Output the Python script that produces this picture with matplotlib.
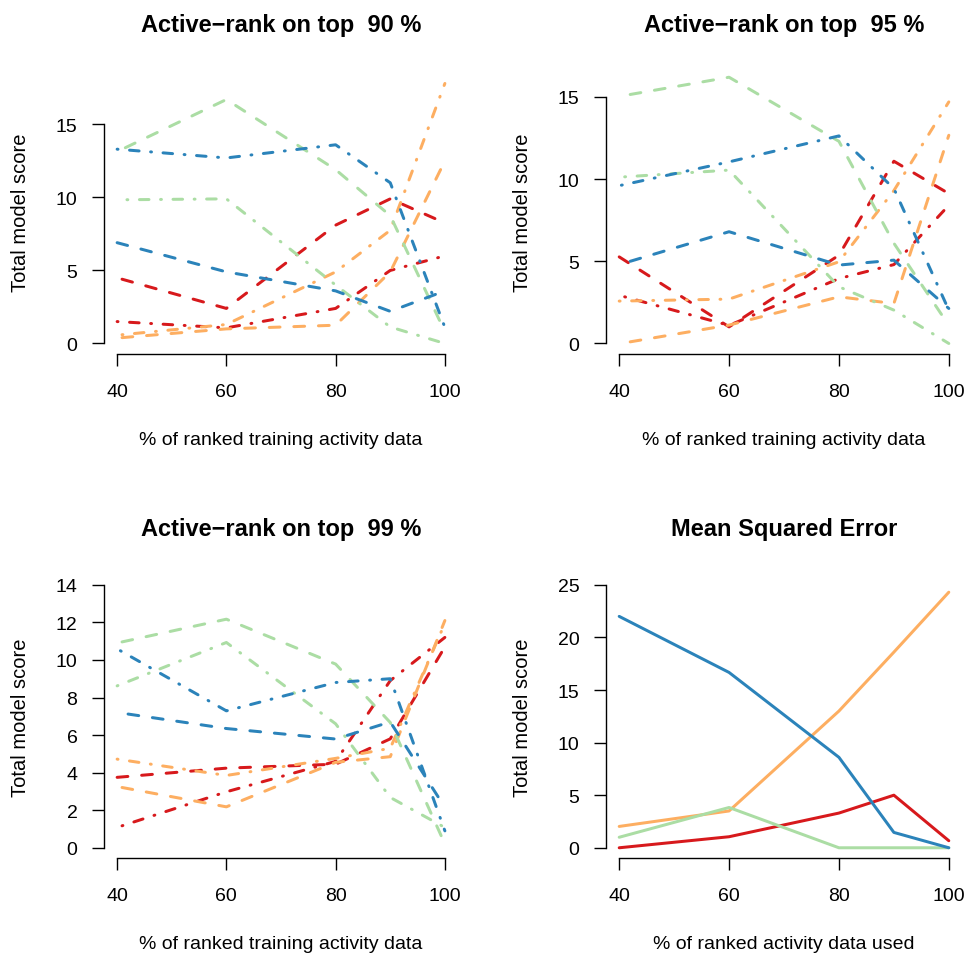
import numpy as np
import matplotlib
matplotlib.use("Agg")
import matplotlib.pyplot as plt

plt.rcParams['font.family'] = ['Liberation Sans', 'DejaVu Sans']

# x positions (% of ranked data)
x = [40, 60, 80, 90, 100]

# colours of the four scores (Spectral palette)
col_red = '#d7191c'
col_orange = '#fdae61'
col_green = '#abdda4'
col_blue = '#2b83ba'

# panel 1: active-rank on top 90 %
p90_red_dash = [4.4, 2.4, 8.1, 9.9, 8.25]
p90_red_dot = [1.5, 1.07, 2.4, 5.0, 6.0]
p90_orange_dash = [0.4, 1.0, 1.25, 4.9, 12.5]
p90_orange_dot = [0.6, 1.3, 4.9, 7.75, 17.8]
p90_green_dash = [13.4, 16.7, 11.9, 8.75, 0.8]
p90_green_dot = [9.84, 9.9, 4.0, 1.13, 0.0]
p90_blue_dash = [6.9, 4.9, 3.6, 2.2, 3.6]
p90_blue_dot = [13.3, 12.7, 13.6, 11.0, 1.1]

# panel 2: active-rank on top 95 %
p95_red_dash = [5.27, 1.01, 5.37, 11.09, 9.12]
p95_red_dot = [2.84, 1.1, 3.95, 4.8, 8.41]
p95_orange_dash = [0.1, 1.12, 2.84, 2.43, 12.67]
p95_orange_dot = [2.58, 2.7, 4.97, 9.3, 14.7]
p95_green_dash = [15.15, 16.2, 12.3, 6.1, 1.1]
p95_green_dot = [10.14, 10.55, 3.45, 2.03, 0.0]
p95_blue_dash = [5.0, 6.8, 4.77, 5.07, 2.13]
p95_blue_dot = [9.63, 11.05, 12.63, 9.43, 2.03]

# panel 3: active-rank on top 99 %
p99_red_dash = [3.75, 4.24, 4.45, 5.8, 10.7]
p99_red_dot = [1.17, 2.98, 4.6, 8.9, 11.2]
p99_orange_dash = [3.21, 2.18, 4.55, 4.85, 12.1]
p99_orange_dot = [4.72, 3.85, 4.76, 5.3, 11.95]
p99_green_dash = [10.96, 12.17, 9.78, 6.67, 0.2]
p99_green_dot = [8.62, 10.93, 6.6, 2.68, 1.08]
p99_blue_dash = [7.12, 6.35, 5.79, 6.7, 2.15]
p99_blue_dot = [10.49, 7.29, 8.8, 9.0, 0.9]

# where each line starts (the lines are slightly jittered at 40)
# order: red dash, red dot, orange dash, orange dot, green dash, green dot, blue dash, blue dot
start90 = [40.9, 40.0, 40.9, 40.9, 41.5, 41.8, 40.0, 40.0]
start95 = [40.0, 41.0, 42.0, 40.0, 42.0, 41.0, 42.0, 40.4]
start99 = [40.0, 40.9, 40.9, 40.0, 40.9, 40.0, 42.0, 40.6]

# panel 4: mean squared error
mse_red = [0.0, 1.05, 3.3, 5.0, 0.67]
mse_orange = [2.03, 3.5, 13.0, 18.6, 24.3]
mse_green = [1.0, 3.83, 0.0, 0.0, 0.0]
mse_blue = [22.0, 16.67, 8.6, 1.46, 0.0]

titles = ['Active\u2212rank on top  90 %', 'Active\u2212rank on top  95 %',
          'Active\u2212rank on top  99 %', 'Mean Squared Error']
xlabels = ['% of ranked training activity data'] * 3 + ['% of ranked activity data used']
ylabel = 'Total model score'
ymax = [18, 16, 14, 25]
ytick_sets = [[0, 5, 10, 15], [0, 5, 10, 15], list(range(0, 15, 2)), [0, 5, 10, 15, 20, 25]]

lw = 2.16
dash = (0, (3.6, 4.6))
dotdash = (0, (0.3, 3.85, 3.2, 3.85))
styles8 = [(col_red, dash), (col_red, dotdash), (col_orange, dash), (col_orange, dotdash),
           (col_green, dash), (col_green, dotdash), (col_blue, dash), (col_blue, dotdash)]

fig = plt.figure(figsize=(9.67, 9.54), dpi=100)
W, H = 967, 954
# plot regions in pixels: (left, top, width, height)
regions = [(104, 71, 354, 284), (606, 71, 356, 284),
           (104, 575.3, 354, 284), (606, 575.3, 356, 284)]
axes = []
for (l, t, w, h) in regions:
    axes.append(fig.add_axes([l / W, 1 - (t + h) / H, w / W, h / H]))

panel_series = [
    ([p90_red_dash, p90_red_dot, p90_orange_dash, p90_orange_dot,
      p90_green_dash, p90_green_dot, p90_blue_dash, p90_blue_dot], start90),
    ([p95_red_dash, p95_red_dot, p95_orange_dash, p95_orange_dot,
      p95_green_dash, p95_green_dot, p95_blue_dash, p95_blue_dot], start95),
    ([p99_red_dash, p99_red_dot, p99_orange_dash, p99_orange_dot,
      p99_green_dash, p99_green_dot, p99_blue_dash, p99_blue_dot], start99),
]

for i, ax in enumerate(axes):
    if i < 3:
        series, starts = panel_series[i]
        for vals, x0, (c, ls) in zip(series, starts, styles8):
            xs = [x0] + x[1:]
            ax.plot(xs, vals, color=c, linestyle=ls, linewidth=lw,
                    dash_capstyle='round', solid_joinstyle='round')
    else:
        for vals, c in [(mse_red, col_red), (mse_orange, col_orange),
                        (mse_green, col_green), (mse_blue, col_blue)]:
            ax.plot(x, vals, color=c, linewidth=lw,
                    solid_capstyle='round', solid_joinstyle='round')

    # R-like axes: 4 % padding, open box
    ax.set_xlim(37.6, 102.4)
    ax.set_ylim(-0.04 * ymax[i], 1.04 * ymax[i])
    for s in ['top', 'right']:
        ax.spines[s].set_visible(False)
    ax.spines['left'].set_bounds(ytick_sets[i][0], ytick_sets[i][-1])
    ax.spines['bottom'].set_bounds(40, 100)
    for s in ['left', 'bottom']:
        ax.spines[s].set_linewidth(1.0)
    ax.set_xticks([40, 60, 80, 100])
    ax.set_yticks(ytick_sets[i])
    ax.tick_params(axis='both', direction='out', length=8.6, width=1.0,
                   labelsize=14, colors='black')
    ax.tick_params(axis='x', pad=12)
    ax.tick_params(axis='y', pad=10.5)

    ax.set_title(titles[i], fontsize=17, fontweight='bold', pad=28)
    ax.set_xlabel(xlabels[i], fontsize=14)
    ax.xaxis.set_label_coords(0.5, -90 / 284)
    ax.xaxis.label.set_verticalalignment('baseline')
    ax.set_ylabel(ylabel, fontsize=14.5)
    ax.yaxis.set_label_coords(-0.235, 0.5)
    ax.yaxis.label.set_verticalalignment('center')

fig.savefig('out.png', dpi=100)
